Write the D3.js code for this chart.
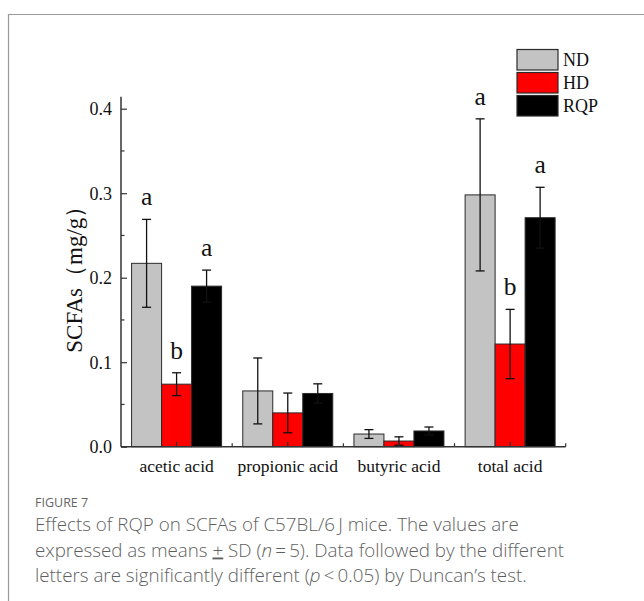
<!DOCTYPE html>
<html>
<head>
<meta charset="utf-8">
<script src="https://cdn.jsdelivr.net/npm/d3@7"></script>
<style>
  html, body { margin: 0; padding: 0; background: #fff; }
  svg { display: block; }
</style>
</head>
<body>
<svg id="fig" width="644" height="601"></svg>
<script>
// SCFA concentrations (mg/g), means and SDs per group
const categories = ["acetic acid", "propionic acid", "butyric acid", "total acid"];
const groups = ["ND", "HD", "RQP"];
const colors = ["#c3c3c3", "#ff0000", "#000000"];
const ndMean  = [0.217, 0.066, 0.015, 0.298];
const hdMean  = [0.074, 0.040, 0.0067, 0.1215];
const rqpMean = [0.190, 0.063, 0.0186, 0.271];
const ndSD  = [0.052, 0.039, 0.0052, 0.090];
const hdSD  = [0.0135, 0.0235, 0.0050, 0.041];
const rqpSD = [0.019, 0.0114, 0.0047, 0.036];
const ndLetters  = ["a", "", "", "a"];
const hdLetters  = ["b", "", "", "b"];
const rqpLetters = ["a", "", "", "a"];
const yTicks = [0.0, 0.1, 0.2, 0.3, 0.4];
const yMinorTicks = [0.05, 0.15, 0.25, 0.35];

(function () {
const means = [ndMean, hdMean, rqpMean];
const sds = [ndSD, hdSD, rqpSD];
const letters = [ndLetters, hdLetters, rqpLetters];

const svg = d3.select("#fig");
const serif = "'Liberation Serif', 'Times New Roman', serif";

// panel frame
svg.append("path")
  .attr("d", "M8.5,610 L8.5,14.5 L660,14.5")
  .attr("fill", "none").attr("stroke", "#9a9a9a").attr("stroke-width", 1.2);

const pL = 121, pR = 565.7, pT = 96.7, pB = 446.7;

const y = d3.scaleLinear().domain([0, 0.4142]).range([pB, pT]);
const x = d3.scaleBand().domain(categories).range([pL, pR]).padding(0);
const xs = d3.scaleBand().domain(groups)
  .range([(x.bandwidth() - 90) / 2, (x.bandwidth() + 90) / 2]).padding(0);

const g = svg.append("g");

// bars
categories.forEach((c, ci) => {
  groups.forEach((grp, gi) => {
    const v = means[gi][ci];
    g.append("rect")
      .attr("x", x(c) + xs(grp))
      .attr("y", y(v))
      .attr("width", xs.bandwidth())
      .attr("height", y(0) - y(v))
      .attr("fill", colors[gi])
      .attr("stroke", "#2a2a2a").attr("stroke-width", 1);
  });
});

// error bars
categories.forEach((c, ci) => {
  groups.forEach((grp, gi) => {
    const v = means[gi][ci], s = sds[gi][ci];
    const cx = x(c) + xs(grp) + xs.bandwidth() / 2;
    const lo = Math.max(0, v - s), hi = v + s;
    const eg = g.append("g").attr("stroke", "#111").attr("stroke-width", 1.3);
    eg.append("line").attr("x1", cx).attr("x2", cx).attr("y1", y(lo)).attr("y2", y(hi));
    eg.append("line").attr("x1", cx - 4.5).attr("x2", cx + 4.5).attr("y1", y(hi)).attr("y2", y(hi));
    if (v - s > 0)
      eg.append("line").attr("x1", cx - 4.5).attr("x2", cx + 4.5).attr("y1", y(lo)).attr("y2", y(lo));
  });
});

// significance letters
categories.forEach((c, ci) => {
  groups.forEach((grp, gi) => {
    const t = letters[gi][ci];
    if (!t) return;
    const v = means[gi][ci] + sds[gi][ci];
    g.append("text")
      .attr("x", x(c) + xs(grp) + xs.bandwidth() / 2)
      .attr("y", y(v) - 14)
      .attr("text-anchor", "middle")
      .attr("font-family", serif).attr("font-size", 25.5)
      .attr("fill", "#111")
      .text(t);
  });
});

// y axis with inward ticks
const axisColor = "#333";
const yAxis = d3.axisLeft(y).tickValues(yTicks).tickFormat(d3.format(".1f")).tickSizeInner(-6).tickSizeOuter(0).tickPadding(9);
const ya = svg.append("g").attr("transform", `translate(${pL},0)`).call(yAxis);
ya.select(".domain").remove();
ya.selectAll(".tick line").attr("stroke", axisColor).attr("stroke-width", 1.2);
ya.selectAll(".tick text").attr("font-family", serif).attr("font-size", 18).attr("fill", "#111").attr("dy", "0.34em");
ya.selectAll(".minor").data(yMinorTicks).enter().append("line")
  .attr("x1", 0).attr("x2", 3.5).attr("y1", d => y(d)).attr("y2", d => y(d))
  .attr("stroke", axisColor).attr("stroke-width", 1.2);
svg.append("line").attr("x1", pL).attr("x2", pL).attr("y1", pT).attr("y2", pB)
  .attr("stroke", axisColor).attr("stroke-width", 1.5);

// x axis: labelled ticks at group centres, short ticks at group boundaries
const xAxis = d3.axisBottom(x).tickSizeInner(-5).tickSizeOuter(0).tickPadding(13);
const xa = svg.append("g").attr("transform", `translate(0,${pB})`).call(xAxis);
xa.select(".domain").remove();
xa.selectAll(".tick line").attr("stroke", axisColor).attr("stroke-width", 1.2);
xa.selectAll(".tick text").attr("font-family", serif).attr("font-size", 17.5).attr("fill", "#111");
const bounds = categories.map(c => x(c) + x.bandwidth());
xa.selectAll(".minor").data(bounds).enter().append("line")
  .attr("x1", d => d).attr("x2", d => d).attr("y1", 0).attr("y2", -3.5)
  .attr("stroke", axisColor).attr("stroke-width", 1.2);
svg.append("line").attr("x1", pL).attr("x2", pR).attr("y1", pB).attr("y2", pB)
  .attr("stroke", axisColor).attr("stroke-width", 1.5);

// y axis title
svg.append("text")
  .attr("transform", `translate(82,${(pT + pB) / 2 + 2}) rotate(-90)`)
  .attr("text-anchor", "middle")
  .attr("font-family", serif).attr("font-size", 23).attr("fill", "#111")
  .text("SCFAs（mg/g）");

// legend
const lg = svg.append("g").attr("transform", "translate(517,49.5)");
groups.forEach((grp, gi) => {
  lg.append("rect").attr("x", 0).attr("y", gi * 23).attr("width", 41).attr("height", 20.5)
    .attr("fill", colors[gi]).attr("stroke", "#2a2a2a").attr("stroke-width", 1.2);
  lg.append("text").attr("x", 46).attr("y", gi * 23 + 16.5)
    .attr("font-family", serif).attr("font-size", 18).attr("fill", "#111")
    .text(grp);
});

// caption
const sans = "'Open Sans', 'Noto Sans', sans-serif";
svg.append("text").attr("x", 35).attr("y", 507)
  .attr("font-family", sans).attr("font-size", 12.5).attr("fill", "#666")
  .text("FIGURE 7");
const cap = svg.append("text").attr("font-family", sans).attr("font-size", 18.8)
  .attr("font-weight", 300).attr("fill", "#5f5f5f");
cap.append("tspan").attr("x", 35).attr("y", 531)
  .text("Effects of RQP on SCFAs of C57BL/6\u2009J mice. The values are");
const l2 = cap.append("tspan").attr("x", 35).attr("y", 556.5);
l2.append("tspan").text("expressed as means ");
l2.append("tspan").attr("text-decoration", "underline").text("+");
l2.append("tspan").text(" SD (");
l2.append("tspan").attr("font-style", "italic").text("n");
l2.append("tspan").text("\u2009=\u20095). Data followed by the different");
const l3 = cap.append("tspan").attr("x", 35).attr("y", 582);
l3.append("tspan").text("letters are significantly different (");
l3.append("tspan").attr("font-style", "italic").text("p");
l3.append("tspan").text("\u2009<\u20090.05) by Duncan\u2019s test.");
})();
</script>
</body>
</html>
